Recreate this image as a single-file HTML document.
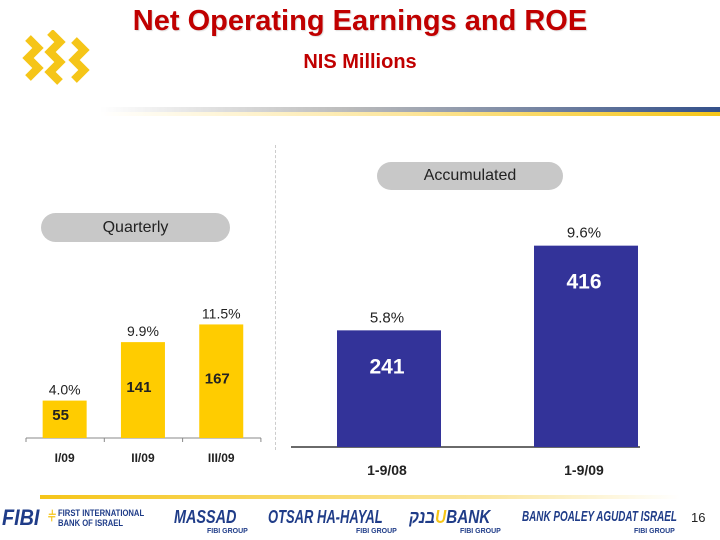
<!DOCTYPE html>
<html><head><meta charset="utf-8"><style>
body{margin:0;width:720px;height:540px;background:#fff;overflow:hidden;font-family:"Liberation Sans",Arial,sans-serif;position:relative}
.abs{position:absolute}
.lg{position:absolute;top:0;transform-origin:0 0;white-space:nowrap}
</style></head><body>
<div class="abs" style="left:0;width:720px;top:5px;text-align:center;font-size:29px;font-weight:bold;color:#c00000;text-shadow:1px 1px 1px #ddd">Net Operating Earnings and ROE</div>
<div class="abs" style="left:0;width:720px;top:51px;text-align:center;font-size:20px;font-weight:bold;color:#c00000">NIS Millions</div>
<svg class="abs" style="left:22px;top:30px" width="75" height="60" viewBox="0 0 75 60">
<g fill="none" stroke="#f5c518" stroke-width="8" stroke-linejoin="miter"><polyline points="6,8 16,18 6,28 16,38 6,48"/><polyline points="28,2 38,12 28,22 38,32 28,42 38,52"/><polyline points="52,10 62,20 52,30 62,40 52,50"/></g></svg>
<div class="abs" style="left:100px;top:107px;width:620px;height:5px;background:linear-gradient(90deg,#fff,#bbb 40%,#33508a)"></div>
<div class="abs" style="left:100px;top:112px;width:620px;height:4px;background:linear-gradient(90deg,#fff,#fce59a 50%,#f5c518)"></div>

<div class="abs" style="left:275px;top:145px;height:305px;border-left:1px dashed #ccc"></div>
<div class="abs" style="left:41px;top:213px;width:189px;height:29px;border-radius:15px;background:#c8c8c8;text-align:center;line-height:29px;font-size:16px;color:#222">Quarterly</div>
<div class="abs" style="left:377px;top:162px;width:186px;height:28px;border-radius:14px;background:#c8c8c8;text-align:center;line-height:28px;font-size:16px;color:#222">Accumulated</div>

<svg class="abs" id="chart" style="left:0;top:0" width="720" height="540"></svg>

<div class="abs" style="left:40px;top:495px;width:640px;height:4px;background:linear-gradient(90deg,#f5c518,#fbe7a0 70%,#fff)"></div>
<div class="abs" style="left:2px;top:505px;width:685px;height:32px;font-weight:bold;font-style:italic;color:#1f3c88;overflow:hidden">
<span class="lg" style="font-size:22px;left:0;transform:scaleX(0.9)">FIBI</span>
<span class="lg" style="font-size:14px;left:46px;top:3px;color:#f5c518;font-style:normal">&#x2AE9;</span>
<span class="lg" style="font-size:9px;left:56px;top:3px;line-height:10px;font-style:normal;transform:scaleX(0.85)">FIRST INTERNATIONAL<br>BANK OF ISRAEL</span>
<span class="lg" style="font-size:18px;left:172px;top:2px;transform:scaleX(0.8)">MASSAD</span>
<span class="lg" style="font-size:7px;left:205px;top:23px;font-style:normal">FIBI GROUP</span>
<span class="lg" style="font-size:18px;left:266px;top:2px;transform:scaleX(0.72)">OTSAR HA-HAYAL</span>
<span class="lg" style="font-size:7px;left:354px;top:23px;font-style:normal">FIBI GROUP</span>
<span class="lg" style="font-size:18px;left:407px;top:2px;transform:scaleX(0.85)">בנק<span style="color:#f5c518">U</span>BANK</span>
<span class="lg" style="font-size:7px;left:458px;top:23px;font-style:normal">FIBI GROUP</span>
<span class="lg" style="font-size:15px;left:520px;top:3px;transform:scaleX(0.66)">BANK POALEY AGUDAT ISRAEL</span>
<span class="lg" style="font-size:7px;left:632px;top:23px;font-style:normal">FIBI GROUP</span>
</div>
<div class="abs" style="left:691px;top:510px;font-size:13px;color:#222">16</div>

<script>
const qCats=["I/09","II/09","III/09"];
const qVals=[55,141,167];
const qRoe=["4.0%","9.9%","11.5%"];
const aCats=["1-9/08","1-9/09"];
const aVals=[241,416];
const aRoe=["5.8%","9.6%"];
const NS="http://www.w3.org/2000/svg";
const svg=document.getElementById('chart');
function mk(t,a){const e=document.createElementNS(NS,t);for(const k in a)e.setAttribute(k,a[k]);svg.appendChild(e);return e;}
function txt(x,y,s,size,fill,w,anchor){const e=mk('text',{x:x,y:y,'font-size':size,fill:fill,'font-weight':w,'text-anchor':anchor||'middle','font-family':'Liberation Sans, Arial, sans-serif'});e.textContent=s;return e;}
// quarterly
const qBase=438,qScale=0.68,qX0=26,qStep=78.3,qW=44;
const qy=v=>qBase-v*qScale;
const ax=mk('line',{x1:26,y1:qBase,x2:261,y2:qBase,stroke:'#888','stroke-width':1});

for(let i=0;i<=qCats.length;i++){const t=mk('line',{x1:qX0+i*qStep,y1:qBase,x2:qX0+i*qStep,y2:qBase+4,stroke:'#888'});}
qCats.forEach((c,i)=>{
 const cx=qX0+qStep*(i+0.5)-0.5;
 const h=qBase-qy(qVals[i]);
 const r=mk('rect',{x:cx-qW/2,y:qy(qVals[i]),width:qW,height:h,fill:'#ffcc00'});
 
 const v=txt(cx-4,qy(qVals[i])+Math.max(18,h*0.52),String(qVals[i]),15,'#222','bold');
 
 const p=txt(cx,qy(qVals[i])-6,qRoe[i],14,'#222','normal');
 
 const l=txt(cx,462,c,12,'#222','bold');
 
});
// accumulated
const aBase=447,aScale=0.484,aX=[389,586],aW=104;
const ay=v=>aBase-v*aScale;
const ax2=mk('line',{x1:291,y1:aBase,x2:640,y2:aBase,stroke:'#111','stroke-width':1.2});

aCats.forEach((c,i)=>{
 const cx=aX[i];
 const r=mk('rect',{x:cx-aW/2,y:ay(aVals[i]),width:aW,height:aBase-ay(aVals[i]),fill:'#333399'});
 
 const v=txt(cx-2,ay(aVals[i])+43,String(aVals[i]),21,'#fff','bold');
 
 const p=txt(cx-2,ay(aVals[i])-8,aRoe[i],15,'#222','normal');
 
 const l=txt(cx-2,475,c,14,'#222','bold');
 
});
</script>
</body></html>
